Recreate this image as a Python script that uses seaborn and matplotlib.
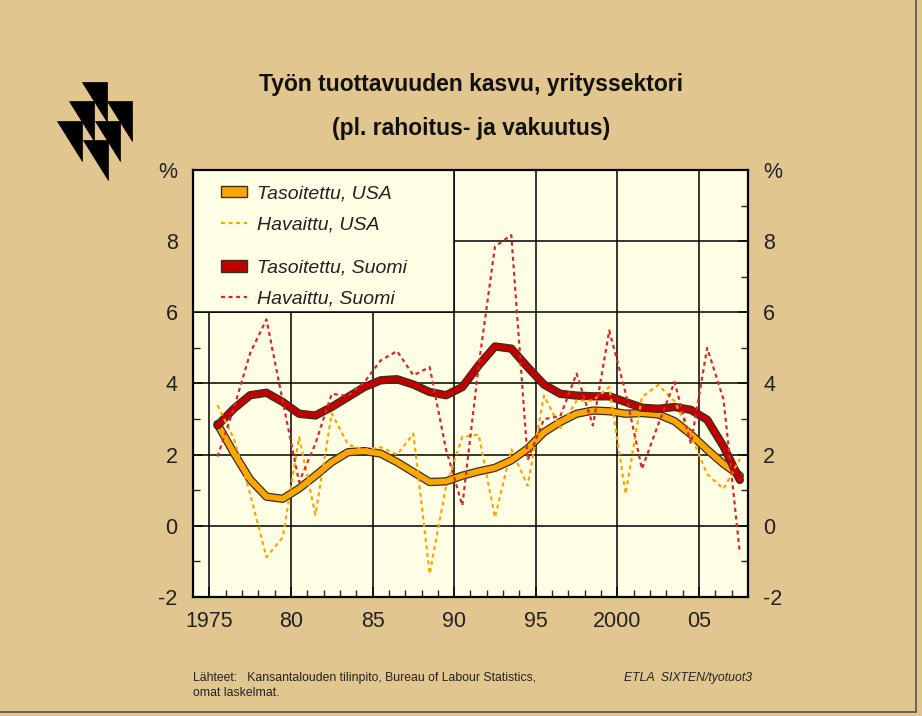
import matplotlib
matplotlib.use("Agg")
import matplotlib.pyplot as plt
import matplotlib.patches as mpatches
import matplotlib.patheffects as pe
from matplotlib.lines import Line2D
from matplotlib.font_manager import FontProperties
import numpy as np
import seaborn as sns

# --- data (annual growth of labour productivity, %) ---
years = list(range(1975, 2008))

usa_smoothed = [2.86, 2.05, 1.30, 0.82, 0.76, 1.05, 1.41, 1.79, 2.07, 2.10, 2.03,
                1.79, 1.51, 1.23, 1.25, 1.41, 1.53, 1.63, 1.84, 2.17, 2.63, 2.92,
                3.15, 3.24, 3.22, 3.15, 3.17, 3.13, 2.94, 2.57, 2.14, 1.74, 1.41]
usa_observed = [3.39, 2.45, 0.90, -0.88, -0.32, 2.49, 0.31, 3.16, 2.28, 2.14, 2.21,
                2.00, 2.59, -1.35, 1.10, 2.50, 2.56, 0.24, 2.15, 1.13, 3.66, 2.75,
                3.52, 3.52, 3.90, 0.90, 3.62, 3.96, 3.50, 2.55, 1.45, 1.04, 1.88]
fin_smoothed = [2.82, 3.29, 3.67, 3.74, 3.48, 3.15, 3.10, 3.34, 3.62, 3.90, 4.09,
                4.12, 3.97, 3.76, 3.67, 3.90, 4.51, 5.04, 4.98, 4.46, 3.97, 3.71,
                3.66, 3.64, 3.64, 3.48, 3.32, 3.29, 3.34, 3.26, 2.98, 2.23, 1.29]
fin_observed = [1.95, 3.30, 4.85, 5.80, 3.50, 1.23, 2.31, 3.71, 3.65, 4.04, 4.65,
                4.91, 4.23, 4.46, 2.15, 0.57, 4.50, 7.85, 8.17, 1.85, 3.00, 3.08,
                4.28, 2.82, 5.49, 3.74, 1.60, 2.85, 4.04, 2.31, 5.00, 3.55, -0.77]

x_major = [1975, 1980, 1985, 1990, 1995, 2000, 2005]
x_labels = ["1975", "80", "85", "90", "95", "2000", "05"]
y_major = [-2, 0, 2, 4, 6, 8, 10]
y_labels = ["-2", "0", "2", "4", "6", "8", "%"]

FIG_BG = "#E2C690"
PLOT_BG = "#FFFFE6"
ORANGE = "#FFA500"
RED = "#C00000"
RED_DOT = "#D42A2A"
OUTLINE = "#3A3020"

sns.set_style("ticks", {"axes.facecolor": PLOT_BG, "figure.facecolor": FIG_BG,
                        "axes.edgecolor": "black", "xtick.direction": "in",
                        "ytick.direction": "in"})
plt.rcParams["font.family"] = ["Liberation Sans", "DejaVu Sans"]

fig = plt.figure(figsize=(9.22, 7.16), dpi=100)
ax = fig.add_axes([0.2093, 0.1662, 0.6020, 0.5964])
xs = np.array(years) + 0.5  # values sit in the middle of each year

# grid lines (under the legend box)
for v in x_major:
    ax.axvline(v, color="black", lw=1.1, zorder=0.8)
for v in y_major:
    ax.axhline(v, color="black", lw=1.1, zorder=0.8)
ax.add_patch(mpatches.Rectangle((1974, 6), 16, 4, facecolor=PLOT_BG,
                                edgecolor="black", lw=1.1, zorder=1))

# smoothed series
for vals, col in [(usa_smoothed, ORANGE), (fin_smoothed, RED)]:
    sns.lineplot(x=xs, y=vals, ax=ax, color=col, linewidth=4.2, zorder=3)
    ax.lines[-1].set_path_effects([pe.Stroke(linewidth=6.0, foreground=OUTLINE),
                                   pe.Normal()])
    ax.lines[-1].set_solid_joinstyle("round")

# observed series
dots = (0, (1.8, 1.6))
sns.lineplot(x=xs, y=usa_observed, ax=ax, color=ORANGE, linewidth=1.6,
             linestyle=dots, zorder=4)
sns.lineplot(x=xs, y=fin_observed, ax=ax, color=RED_DOT, linewidth=1.6,
             linestyle=dots, zorder=4)

ax.set_xlim(1974, 2008)
ax.set_ylim(-2, 10)
ax.set_xlabel("")
ax.set_ylabel("")
ax.set_xticks(x_major)
ax.set_xticklabels(x_labels)
ax.set_xticks(range(1975, 2008), minor=True)
ax.set_yticks(y_major)
ax.set_yticklabels(y_labels)
ax.set_yticks([-1, 1, 3, 5, 7, 9], minor=True)
ax.tick_params(axis="x", which="major", length=7, width=1.1, pad=10, labelsize=15.5,
               top=False, labelcolor="#222222")
ax.tick_params(axis="x", which="minor", length=5, width=1, top=False)
ax.tick_params(axis="y", which="major", length=7, width=1.1, pad=11, labelsize=15.5,
               left=True, right=True, labelleft=True, labelright=True,
               labelcolor="#222222")
ax.tick_params(axis="y", which="minor", length=5, width=1, left=True, right=True)
for s in ax.spines.values():
    s.set_linewidth(1.6)
    s.set_zorder(5)

# legends
leg_font = FontProperties(family=["Liberation Sans", "DejaVu Sans"], style="italic",
                          size=14)
lkw = dict(frameon=False, prop=leg_font, handlelength=1.35, handleheight=0.55,
           handletextpad=0.5, labelspacing=0.72, borderpad=0, borderaxespad=0,
           labelcolor="#222222")
h1 = [mpatches.Patch(facecolor=ORANGE, edgecolor=OUTLINE, lw=1),
      Line2D([], [], color=ORANGE, lw=1.6, linestyle=dots)]
leg1 = ax.legend(h1, ["Tasoitettu, USA", "Havaittu, USA"], loc="upper left",
                 bbox_to_anchor=(0.05, 0.964), **lkw)
ax.add_artist(leg1)
h2 = [mpatches.Patch(facecolor=RED, edgecolor=OUTLINE, lw=1),
      Line2D([], [], color=RED_DOT, lw=1.6, linestyle=dots)]
ax.legend(h2, ["Tasoitettu, Suomi", "Havaittu, Suomi"], loc="upper left",
          bbox_to_anchor=(0.05, 0.79), **lkw)

# title
fig.text(0.511, 1 - 85 / 716, "Työn tuottavuuden kasvu, yrityssektori",
         ha="center", va="center", fontsize=16.5, weight="bold", color="#111111")
fig.text(0.511, 1 - 128 / 716, "(pl. rahoitus- ja vakuutus)",
         ha="center", va="center", fontsize=16.5, weight="bold", color="#111111")

# footer
fig.text(193 / 922, 1 - 678 / 716,
         "Lähteet:   Kansantalouden tilinpito, Bureau of Labour Statistics,",
         ha="left", va="center", fontsize=8.8, color="#222222")
fig.text(193 / 922, 1 - 693 / 716, "omat laskelmat.",
         ha="left", va="center", fontsize=8.8, color="#222222")
fig.text(752 / 922, 1 - 678 / 716, "ETLA  SIXTEN/tyotuot3",
         ha="right", va="center", fontsize=8.8, style="italic", color="#222222")

# logo
for (px, py) in [(82, 82), (69, 101), (107, 101), (57, 121), (95, 121), (83, 140)]:
    pts = [(px / 922, 1 - py / 716), ((px + 25) / 922, 1 - py / 716),
           ((px + 25) / 922, 1 - (py + 40) / 716)]
    fig.add_artist(mpatches.Polygon(pts, closed=True, facecolor="black",
                                    edgecolor="black", lw=0.5))

# frame edge
fig.add_artist(Line2D([916 / 922, 916 / 922], [1 - 712 / 716, 1], color="#555555", lw=1.2))
fig.add_artist(Line2D([0, 916 / 922], [1 - 712 / 716, 1 - 712 / 716], color="#555555", lw=1.2))

fig.savefig("out.png", dpi=100, facecolor=FIG_BG)
